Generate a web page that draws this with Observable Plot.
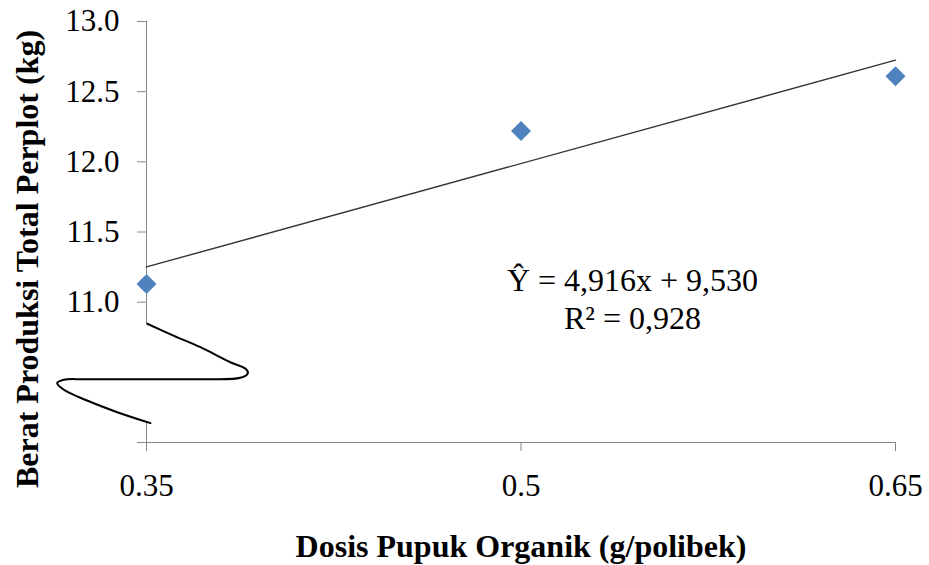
<!DOCTYPE html>
<html><head><meta charset="utf-8">
<script src="https://cdn.jsdelivr.net/npm/d3@7"></script>
<script src="https://cdn.jsdelivr.net/npm/@observablehq/plot@0.6"></script>
<style>body{margin:0;background:#fff}</style>
</head><body><div id="chart"></div>
<script>
const doses = [0.35, 0.5, 0.65];
const doseLabels = ["0.35", "0.5", "0.65"];
const weights = [11.13, 12.22, 12.61];
const trendDoses = [0.35, 0.65];
const trendWeights = [11.251, 12.725];
const yTicks = [10.0, 11.0, 11.5, 12.0, 12.5, 13.0];
const yTickLabels = ["", "11.0", "11.5", "12.0", "12.5", "13.0"];
const equationLines = ["Ŷ = 4,916x + 9,530", "R² = 0,928"];
const xTitle = "Dosis Pupuk Organik (g/polibek)";
const yTitle = "Berat Produksi Total Perplot (kg)";
// axis-break squiggle (data units)
const breakX = [0.3503, 0.3608, 0.3716, 0.3836, 0.3897, 0.3906, 0.3876, 0.3716, 0.3448, 0.3248, 0.3169, 0.3142, 0.3169, 0.3262, 0.3383, 0.3516];
const breakY = [10.846, 10.762, 10.679, 10.572, 10.525, 10.494, 10.461, 10.451, 10.451, 10.451, 10.447, 10.423, 10.376, 10.299, 10.216, 10.138];
// visible y-axis segments (around the break)
const axisSegLow = [10.0, 10.138];
const axisSegHigh = [10.846, 13.0];

const points = doses.map((d, i) => ({x: d, y: weights[i]}));
const trend = trendDoses.map((d, i) => ({x: d, y: trendWeights[i]}));
const squiggle = breakX.map((d, i) => ({x: d, y: breakY[i]}));
const yLabelMap = new Map(yTicks.map((t, i) => [t, yTickLabels[i]]));
const xLabelMap = new Map(doses.map((t, i) => [t, doseLabels[i]]));
const gray = "#888";
const serif = "'Liberation Serif', 'Times New Roman', serif";

const chart = Plot.plot({
  width: 929,
  height: 565,
  marginLeft: 146,
  marginRight: 34,
  marginTop: 21,
  marginBottom: 123,
  style: {fontFamily: serif, background: "#fff", color: "#000"},
  x: {domain: [0.35, 0.65]},
  y: {domain: [10, 13]},
  marks: [
    Plot.ruleX([0.35], {y1: axisSegLow[0], y2: axisSegLow[1], stroke: gray}),
    Plot.ruleX([0.35], {y1: axisSegHigh[0], y2: axisSegHigh[1], stroke: gray}),
    Plot.ruleY([10], {x1: 0.35, x2: 0.65, stroke: gray}),
    Plot.axisY({ticks: yTicks, tickFormat: d => yLabelMap.get(d) ?? "", tickSize: 9, tickPadding: 18, stroke: gray, fill: "#000", fontSize: 31, fontFamily: serif, label: null}),
    Plot.axisX({ticks: doses, tickFormat: d => xLabelMap.get(d) ?? "", tickSize: 9, tickPadding: 22, stroke: gray, fill: "#000", fontSize: 31, fontFamily: serif, label: null}),
    Plot.line(squiggle, {x: "x", y: "y", curve: "catmull-rom", stroke: "#000", strokeWidth: 2}),
    Plot.line(trend, {x: "x", y: "y", stroke: "#333", strokeWidth: 1.4}),
    Plot.dot(points, {x: "x", y: "y", symbol: "diamond2", r: 9, fill: "#4F81BD", stroke: "none"}),
    Plot.text([equationLines.join("\n")], {frameAnchor: "top-left", dx: 486, dy: 276, textAnchor: "middle", lineAnchor: "middle", lineHeight: 1.2, fontSize: 32, fontFamily: serif, fill: "#000"}),
    Plot.text([xTitle], {frameAnchor: "bottom", dy: 104, textAnchor: "middle", lineAnchor: "middle", fontSize: 32, fontWeight: "bold", fontFamily: serif, fill: "#000"}),
    Plot.text([yTitle], {frameAnchor: "left", dx: -119, dy: 27, rotate: -90, textAnchor: "middle", lineAnchor: "middle", fontSize: 32, fontWeight: "bold", fontFamily: serif, fill: "#000"})
  ]
});
document.getElementById("chart").appendChild(chart);
</script>
</body></html>
